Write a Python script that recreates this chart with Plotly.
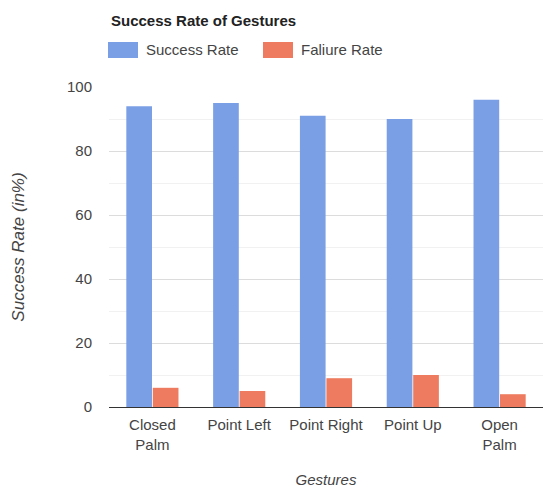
import plotly.graph_objects as go

# Gesture recognition results (percent)
gestures = ["Closed<br>Palm", "Point Left", "Point Right", "Point Up", "Open<br>Palm"]
success_rate = [94, 95, 91, 90, 96]
failure_rate = [6, 5, 9, 10, 4]
y_ticks = [0, 20, 40, 60, 80, 100]

BLUE = "#7b9fe5"
ORANGE = "#ee7b5f"
FONT = "Liberation Sans, Arial, sans-serif"
TEXT = "#444"

fig = go.Figure()
fig.add_trace(go.Bar(name="Success Rate", x=gestures, y=success_rate,
                     marker=dict(color=BLUE, line=dict(width=0))))
fig.add_trace(go.Bar(name="Faliure Rate", x=gestures, y=failure_rate,
                     marker=dict(color=ORANGE, line=dict(width=0))))

W, H = 543, 488
L, R, T, B = 109, 0, 87, 81

fig.update_layout(
    width=W, height=H,
    margin=dict(l=L, r=R, t=T, b=B),
    paper_bgcolor="white", plot_bgcolor="white",
    font=dict(family=FONT, size=15, color=TEXT),
    barmode="group", bargap=0.39, bargroupgap=0.03,
    showlegend=False,
    xaxis=dict(
        showline=True, linecolor="#333", linewidth=1,
        showgrid=False, ticks="", ticklabelstandoff=4,
        tickfont=dict(size=15, color=TEXT),
        title=dict(text="<i>Gestures</i>", font=dict(size=15, color=TEXT), standoff=22),
    ),
    yaxis=dict(
        range=[0, 100], tickvals=y_ticks,
        showgrid=True, gridcolor="#dcdcdc", gridwidth=1,
        minor=dict(dtick=10, tick0=0, showgrid=True, gridcolor="#f1f1f1", gridwidth=1),
        zeroline=False, ticks="", ticklabelstandoff=16,
        tickfont=dict(size=15, color=TEXT),
        title=dict(text="<i>Success Rate (in%)</i>", font=dict(size=17, color=TEXT), standoff=38),
    ),
)


def px_to_paper_x(px):
    return (px - L) / (W - L - R)


def px_to_paper_y(py):
    return (H - B - py) / (H - T - B)


# Chart title and legend drawn across the top
fig.add_annotation(text="<b>Success Rate of Gestures</b>", xref="paper", yref="paper",
                   x=px_to_paper_x(109), y=px_to_paper_y(21), xanchor="left", yanchor="middle",
                   showarrow=False, font=dict(size=15, color="#222", family=FONT))

legend_items = [("Success Rate", BLUE, 108), ("Faliure Rate", ORANGE, 263)]
for label, color, x0 in legend_items:
    fig.add_shape(type="rect", xref="paper", yref="paper",
                  x0=px_to_paper_x(x0), x1=px_to_paper_x(x0 + 30),
                  y0=px_to_paper_y(58), y1=px_to_paper_y(42),
                  fillcolor=color, line=dict(width=0))
    fig.add_annotation(text=label, xref="paper", yref="paper",
                       x=px_to_paper_x(x0 + 36), y=px_to_paper_y(50),
                       xanchor="left", yanchor="middle", showarrow=False,
                       font=dict(size=15, color=TEXT, family=FONT))

fig.write_html("out.html")
